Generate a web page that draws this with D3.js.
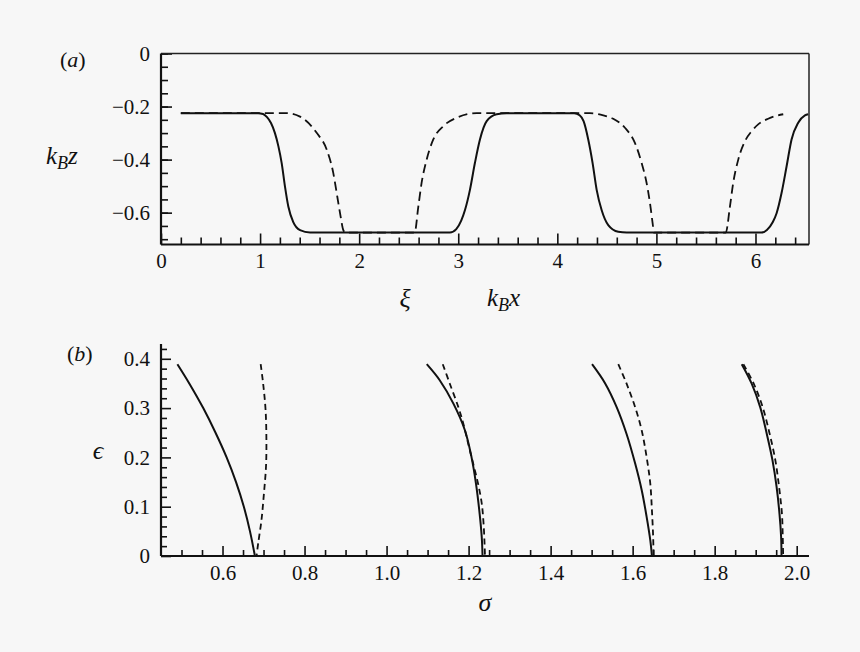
<!DOCTYPE html>
<html>
<head>
<meta charset="utf-8">
<script src="https://cdn.jsdelivr.net/npm/d3@7"></script>
</head>
<body style="margin:0;background:#f7f7f7">
<svg id="fig" width="860" height="652"></svg>
<script>
// panel (a): surface profile k_B z against k_B x (xi)
var profileSolid = [[0.2,-0.225],[0.98,-0.225],[1.03,-0.228],[1.07,-0.240],[1.11,-0.262],[1.15,-0.300],[1.185,-0.350],[1.218,-0.413],[1.251,-0.501],[1.285,-0.577],[1.335,-0.636],[1.403,-0.666],[1.504,-0.675],[2.916,-0.675],[2.98,-0.662],[3.03,-0.630],[3.068,-0.590],[3.118,-0.514],[3.168,-0.413],[3.219,-0.324],[3.287,-0.255],[3.388,-0.229],[3.488,-0.225],[4.17,-0.225],[4.225,-0.233],[4.265,-0.255],[4.312,-0.324],[4.356,-0.413],[4.397,-0.514],[4.447,-0.590],[4.514,-0.647],[4.615,-0.672],[4.70,-0.675],[6.06,-0.675],[6.115,-0.665],[6.175,-0.635],[6.213,-0.602],[6.263,-0.526],[6.314,-0.425],[6.364,-0.324],[6.431,-0.261],[6.499,-0.233],[6.532,-0.229]];
var profileDashed = [[0.2,-0.225],[1.268,-0.225],[1.403,-0.238],[1.571,-0.299],[1.672,-0.362],[1.739,-0.451],[1.779,-0.539],[1.813,-0.615],[1.840,-0.666],[1.86,-0.675],[2.56,-0.675],[2.597,-0.577],[2.63,-0.488],[2.681,-0.400],[2.748,-0.324],[2.849,-0.274],[2.984,-0.242],[3.186,-0.225],[4.329,-0.225],[4.464,-0.233],[4.564,-0.246],[4.682,-0.280],[4.783,-0.337],[4.851,-0.413],[4.901,-0.488],[4.935,-0.564],[4.962,-0.640],[4.975,-0.675],[5.70,-0.675],[5.742,-0.577],[5.775,-0.488],[5.826,-0.400],[5.893,-0.331],[5.961,-0.293],[6.027,-0.267],[6.128,-0.246],[6.229,-0.233],[6.28,-0.229]];
var xTicksA = [0,1,2,3,4,5,6];
var yTicksA = [0,-0.2,-0.4,-0.6];

// panel (b): epsilon against sigma, four branches each
var branchSolid1 = [[0.490,0.389],[0.519,0.350],[0.553,0.300],[0.583,0.250],[0.610,0.200],[0.633,0.150],[0.652,0.100],[0.667,0.050],[0.679,0.0]];
var branchDashed1 = [[0.693,0.389],[0.699,0.350],[0.705,0.296],[0.707,0.235],[0.706,0.181],[0.701,0.127],[0.695,0.073],[0.687,0.026],[0.683,0.0]];
var branchSolid2 = [[1.098,0.389],[1.130,0.356],[1.163,0.309],[1.191,0.255],[1.207,0.201],[1.218,0.147],[1.226,0.093],[1.232,0.039],[1.234,0.0]];
var branchDashed2 = [[1.137,0.389],[1.154,0.350],[1.175,0.302],[1.187,0.269],[1.199,0.228],[1.211,0.188],[1.223,0.147],[1.232,0.107],[1.237,0.059],[1.240,0.0]];
var branchSolid3 = [[1.501,0.389],[1.533,0.350],[1.561,0.302],[1.585,0.248],[1.606,0.188],[1.622,0.134],[1.634,0.080],[1.643,0.032],[1.647,0.0]];
var branchDashed3 = [[1.565,0.389],[1.585,0.350],[1.606,0.302],[1.622,0.255],[1.634,0.201],[1.643,0.147],[1.647,0.093],[1.650,0.039],[1.651,0.0]];
var branchSolid4 = [[1.866,0.389],[1.890,0.350],[1.911,0.302],[1.927,0.248],[1.941,0.194],[1.951,0.140],[1.958,0.086],[1.962,0.039],[1.963,0.0]];
var branchDashed4 = [[1.870,0.389],[1.895,0.350],[1.917,0.302],[1.934,0.248],[1.948,0.194],[1.957,0.140],[1.964,0.086],[1.966,0.039],[1.967,0.0]];
var xTicksB = [0.6,0.8,1.0,1.2,1.4,1.6,1.8,2.0];
var yTicksB = [0,0.1,0.2,0.3,0.4];

var FONT = '"Liberation Serif", "Times New Roman", serif';

var svg = d3.select("#fig");
svg.append("rect").attr("width",860).attr("height",652).attr("fill","#f7f7f7");

function range_step(a, b, s) {
  var out = [];
  for (var i=0; a + i*s <= b + 1e-9; i++) out.push(+(a + i*s).toFixed(4));
  return out;
}

function txt(x, y, size) {
  return svg.append("text").attr("x",x).attr("y",y)
    .style("font-family", FONT).style("font-size", size + "px").style("fill","#111");
}

function label_sub(x, y, main, sub, tail) {
  var t = txt(x, y, 25).style("font-style","italic");
  t.append("tspan").text(main);
  t.append("tspan").attr("dy",5).style("font-size","18px").text(sub);
  t.append("tspan").attr("dy",-5).text(tail);
}

function panel_label(x, y, letter) {
  var t = txt(x, y, 22);
  t.append("tspan").text("(");
  t.append("tspan").style("font-style","italic").text(letter);
  t.append("tspan").text(")");
}

function style_axis(g, w) {
  g.select(".domain").remove();
  g.selectAll("line").attr("stroke","#111").attr("stroke-width",w);
  g.selectAll("text").style("font-family", FONT).style("font-size","21px").style("fill","#111");
}

// ---------- panel (a)
var xa = d3.scaleLinear().domain([0, 6.54]).range([161, 809]);
var ya = d3.scaleLinear().domain([-0.72, 0]).range([244.5, 53.5]);

var fmtA = function(d){ return d === 0 ? "0" : d3.format(".1f")(d); };

var gax = svg.append("g").attr("transform","translate(0,244.5)")
  .call(d3.axisBottom(xa).tickValues(xTicksA).tickSizeInner(-11).tickSizeOuter(0).tickPadding(9).tickFormat(d3.format("d")));
style_axis(gax, 1.6);
var gaxm = svg.append("g").attr("transform","translate(0,244.5)")
  .call(d3.axisBottom(xa).tickValues(range_step(0, 6.5, 0.2).filter(function(d){ return Math.abs(d - Math.round(d)) > 1e-6; })).tickSizeInner(-7).tickSizeOuter(0).tickFormat(""));
style_axis(gaxm, 1.6);

var gay = svg.append("g").attr("transform","translate(161,0)")
  .call(d3.axisLeft(ya).tickValues(yTicksA).tickSizeInner(-11).tickSizeOuter(0).tickPadding(11).tickFormat(fmtA));
style_axis(gay, 1.6);
var gaym = svg.append("g").attr("transform","translate(161,0)")
  .call(d3.axisLeft(ya).tickValues(range_step(-0.7, 0, 0.05)).tickSizeInner(-7).tickSizeOuter(0).tickFormat(""));
style_axis(gaym, 1.6);

// frame
svg.append("line").attr("x1",161).attr("x2",809).attr("y1",53.5).attr("y2",53.5).attr("stroke","#222").attr("stroke-width",1.5);
svg.append("line").attr("x1",809).attr("x2",809).attr("y1",53.5).attr("y2",244.5).attr("stroke","#222").attr("stroke-width",1.5);
svg.append("line").attr("x1",161).attr("x2",809).attr("y1",244.5).attr("y2",244.5).attr("stroke","#111").attr("stroke-width",2.2);
svg.append("line").attr("x1",161).attr("x2",161).attr("y1",53.5).attr("y2",244.5).attr("stroke","#111").attr("stroke-width",2.2);

var lineA = d3.line().x(function(d){ return xa(d[0]); }).y(function(d){ return ya(d[1]); }).curve(d3.curveMonotoneX);
svg.append("path").datum(profileDashed).attr("d",lineA).attr("fill","none").attr("stroke","#111").attr("stroke-width",1.8).attr("stroke-dasharray","9,5");
svg.append("path").datum(profileSolid).attr("d",lineA).attr("fill","none").attr("stroke","#111").attr("stroke-width",2);

panel_label(60, 67, "a");
label_sub(46, 164, "k", "B", "z");
txt(405, 307, 26).attr("text-anchor","middle").style("font-style","italic").text("ξ");
label_sub(487, 306, "k", "B", "x");

// ---------- panel (b)
var xb = d3.scaleLinear().domain([0.45, 2.03]).range([161, 809]);
var yb = d3.scaleLinear().domain([0, 0.43]).range([556, 344]);

var gbx = svg.append("g").attr("transform","translate(0,556)")
  .call(d3.axisBottom(xb).tickValues(xTicksB).tickSizeInner(-10).tickSizeOuter(0).tickPadding(9).tickFormat(d3.format(".1f")));
style_axis(gbx, 1.6);
var gbxm = svg.append("g").attr("transform","translate(0,556)")
  .call(d3.axisBottom(xb).tickValues(range_step(0.5, 2.0, 0.05).filter(function(d){ return Math.abs(d*5 - Math.round(d*5)) > 1e-6; })).tickSizeInner(-6).tickSizeOuter(0).tickFormat(""));
style_axis(gbxm, 1.6);

var gby = svg.append("g").attr("transform","translate(161,0)")
  .call(d3.axisLeft(yb).tickValues(yTicksB).tickSizeInner(-10).tickSizeOuter(0).tickPadding(11).tickFormat(function(d){ return d === 0 ? "0" : d3.format(".1f")(d); }));
style_axis(gby, 1.6);
var gbym = svg.append("g").attr("transform","translate(161,0)")
  .call(d3.axisLeft(yb).tickValues(range_step(0.02, 0.42, 0.02).filter(function(d){ return Math.abs(d*10 - Math.round(d*10)) > 1e-6; })).tickSizeInner(-6).tickSizeOuter(0).tickFormat(""));
style_axis(gbym, 1.6);

svg.append("line").attr("x1",161).attr("x2",809).attr("y1",556).attr("y2",556).attr("stroke","#111").attr("stroke-width",2.2);
svg.append("line").attr("x1",161).attr("x2",161).attr("y1",344).attr("y2",556).attr("stroke","#111").attr("stroke-width",2.2);

var lineB = d3.line().x(function(d){ return xb(d[0]); }).y(function(d){ return yb(d[1]); }).curve(d3.curveCatmullRom);
var solids = [branchSolid1, branchSolid2, branchSolid3, branchSolid4];
var dashes = [branchDashed1, branchDashed2, branchDashed3, branchDashed4];
for (var i=0; i<solids.length; i++) {
  svg.append("path").datum(solids[i]).attr("d",lineB).attr("fill","none").attr("stroke","#111").attr("stroke-width",2);
  svg.append("path").datum(dashes[i]).attr("d",lineB).attr("fill","none").attr("stroke","#111").attr("stroke-width",1.8).attr("stroke-dasharray","6,4");
}

panel_label(67, 361, "b");
txt(98, 459, 26).attr("text-anchor","middle").style("font-style","italic").text("ϵ");
txt(485, 611, 26).attr("text-anchor","middle").style("font-style","italic").text("σ");
</script>
</body>
</html>
